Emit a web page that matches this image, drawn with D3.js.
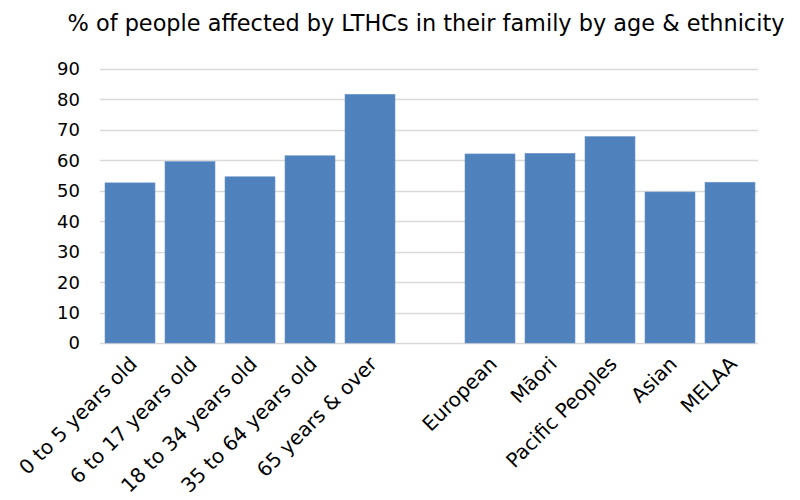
<!DOCTYPE html>
<html>
<head>
<meta charset="utf-8">
<script src="https://cdn.jsdelivr.net/npm/d3@7"></script>
<style>
  body { margin: 0; background: #fff; }
  text { font-family: "DejaVu Sans", Verdana, sans-serif; fill: #000; }
</style>
</head>
<body>
<svg id="chart" width="800" height="500"></svg>
<script>
// Categories: age groups, a blank spacer slot, then ethnic groups
const categories = ["0 to 5 years old", "6 to 17 years old", "18 to 34 years old",
  "35 to 64 years old", "65 years & over", "",
  "European", "Māori", "Pacific Peoples", "Asian", "MELAA"];
const values = [52.6, 59.6, 54.6, 61.5, 81.7, null, 62.1, 62.3, 67.8, 49.6, 52.8];
const yTicks = [0, 10, 20, 30, 40, 50, 60, 70, 80, 90];
const title = "% of people affected by LTHCs in their family by age & ethnicity";

const svg = d3.select("#chart");
const margin = { left: 100, right: 40, top: 69, bottom: 157 };
const width = 800, height = 500;

const x = d3.scaleBand()
  .domain(categories.map((c, i) => i))
  .range([margin.left, width - margin.right])
  .paddingInner(1 / 6)
  .paddingOuter(1 / 12);

const y = d3.scaleLinear()
  .domain([0, 90])
  .range([height - margin.bottom, margin.top]);

// Horizontal gridlines
svg.append("g")
  .selectAll("line")
  .data(yTicks)
  .join("line")
  .attr("x1", margin.left)
  .attr("x2", width - margin.right - 2)
  .attr("y1", d => Math.round(y(d)) + 0.5)
  .attr("y2", d => Math.round(y(d)) + 0.5)
  .attr("stroke", "#d9d9d9")
  .attr("stroke-width", 1.5);

// Y tick labels
svg.append("g")
  .selectAll("text")
  .data(yTicks)
  .join("text")
  .attr("x", 80)
  .attr("y", d => y(d))
  .attr("dy", "0.36em")
  .attr("text-anchor", "end")
  .attr("font-size", 18)
  .text(d => d);

// Bars
svg.append("g")
  .selectAll("rect")
  .data(values.map((v, i) => ({ v, i })).filter(d => d.v !== null))
  .join("rect")
  .attr("x", d => x(d.i))
  .attr("width", x.bandwidth())
  .attr("y", d => y(d.v))
  .attr("height", d => y(0) - y(d.v))
  .attr("fill", "#4f81bd")
  .attr("stroke", "#6f97c8")
  .attr("stroke-width", 0.6);

// Category labels, rotated
svg.append("g")
  .selectAll("text")
  .data(categories.map((c, i) => ({ c, i })).filter(d => d.c !== ""))
  .join("text")
  .attr("transform", d => `translate(${x(d.i) + x.bandwidth() / 2 - 2},${y(0) + 12}) rotate(-45)`)
  .attr("text-anchor", "end")
  .attr("dy", "0.72em")
  .attr("font-size", 20)
  .text(d => d.c);

// Title
svg.append("text")
  .attr("x", 426)
  .attr("y", 31)
  .attr("text-anchor", "middle")
  .attr("font-size", 22.4)
  .text(title);
</script>
</body>
</html>
